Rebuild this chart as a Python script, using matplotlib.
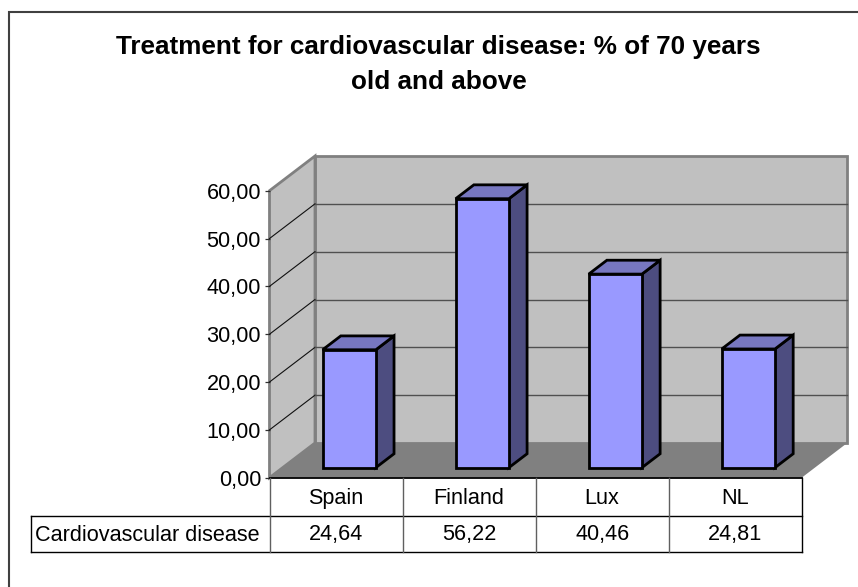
import matplotlib
matplotlib.use('Agg')
import matplotlib.pyplot as plt
from matplotlib.patches import Polygon, Rectangle
from matplotlib.lines import Line2D

plt.rcParams['font.family'] = ['Liberation Sans', 'DejaVu Sans']

categories = ['Spain', 'Finland', 'Lux', 'NL']
values = [24.64, 56.22, 40.46, 24.81]
value_labels = ['24,64', '56,22', '40,46', '24,81']
series_name = 'Cardiovascular disease'
title = 'Treatment for cardiovascular disease: % of 70 years\nold and above'
yticks = [0, 10, 20, 30, 40, 50, 60]

W, H = 858, 587
L, R, T, B = 269.5, 801.7, 190.7, 477.7   # front plane in pixels

fig = plt.figure(figsize=(W / 100, H / 100), dpi=100, facecolor='white')
ax = fig.add_axes([L / W, 1 - B / H, (R - L) / W, (B - T) / H])
ax.set_xlim(0, 4)
ax.set_ylim(0, 60)
ax.patch.set_visible(False)

# depth of the 3D box, in data units
DX = 45.5 / ((R - L) / 4)
DY = 34.7 / ((B - T) / 60)


def pt(x, y, d):
    return (x + DX * d, y + DY * d)


def poly(pts, fc, ec, lw, z):
    ax.add_patch(Polygon(pts, closed=True, facecolor=fc, edgecolor=ec, linewidth=lw,
                         zorder=z, clip_on=False, joinstyle='miter'))


# walls and floor
poly([pt(0, 0, 1), pt(4, 0, 1), pt(4, 60, 1), pt(0, 60, 1)], '#C0C0C0', '#808080', 2.0, 1)
poly([pt(0, 0, 0), pt(0, 0, 1), pt(0, 60, 1), pt(0, 60, 0)], '#C0C0C0', '#808080', 2.0, 1)
poly([pt(0, 0, 0), pt(4, 0, 0), pt(4, 0, 1), pt(0, 0, 1)], '#808080', 'none', 0, 2)

# gridlines
for v in yticks[1:-1]:
    xs, ys = zip(pt(0, v, 0), pt(0, v, 1))
    ax.add_line(Line2D(xs, ys, color='#101010', lw=0.8, zorder=3, clip_on=False))
    xs, ys = zip(pt(0, v, 1), pt(4, v, 1))
    ax.add_line(Line2D(xs, ys, color='#505050', lw=1.0, zorder=3, clip_on=False))

# bars
bar_w = 0.4
d0, d1 = 0.29, 0.69
for i, v in enumerate(values):
    x0 = i + 0.5 - bar_w / 2
    x1 = x0 + bar_w
    poly([pt(x1, 0, d0), pt(x1, 0, d1), pt(x1, v, d1), pt(x1, v, d0)], '#4D4D80', 'black', 2.0, 5)
    poly([pt(x0, v, d0), pt(x1, v, d0), pt(x1, v, d1), pt(x0, v, d1)], '#7777C0', 'black', 2.0, 5)
    poly([pt(x0, 0, d0), pt(x1, 0, d0), pt(x1, v, d0), pt(x0, v, d0)], '#9999FF', 'black', 2.0, 6)

# y axis
ax.set_yticks(yticks)
ax.set_yticklabels([f'{v:.2f}'.replace('.', ',') for v in yticks], fontsize=15.6)
ax.set_xticks([])
ax.tick_params(axis='y', length=3.6, width=0.9, color='#303030', pad=2.5)
for s in ['top', 'right', 'bottom', 'left']:
    ax.spines[s].set_visible(False)

# data table under the plot
h = B - T
r1 = 38.0 / h
r2 = 74.6 / h
label_x = (30.5 - L) / (R - L) * 4
tr = ax.get_xaxis_transform()


def tline(xs, ys, color, lw=1.0):
    ax.add_line(Line2D(xs, ys, transform=tr, color=color, lw=lw, clip_on=False, zorder=7))


tline([0, 4], [0, 0], 'black', 1.3)
tline([label_x, 4], [-r1, -r1], 'black')
tline([label_x, 4], [-r2, -r2], 'black')
tline([label_x, label_x], [-r1, -r2], 'black')
tline([4, 4], [0, -r2], 'black')
for k in range(4):
    tline([k, k], [0, -r2], '#606060')

for i, (c, t) in enumerate(zip(categories, value_labels)):
    ax.text(i + 0.5, -r1 / 2 + 0.003, c, transform=tr, ha='center', va='center_baseline', fontsize=15.6)
    ax.text(i + 0.5, -(r1 + r2) / 2 + 0.006, t, transform=tr, ha='center', va='center_baseline', fontsize=15.6)
ax.text(label_x + 0.035, -(r1 + r2) / 2 + 0.003, series_name, transform=tr, ha='left', va='center_baseline',
        fontsize=15.6)

# title and outer frame
fig.text(438.5 / W, 1 - 64.5 / H, title, ha='center', va='center', fontsize=18.8, fontweight='bold',
         linespacing=1.55)
fig.add_artist(Rectangle((9.2 / W, -0.05), 1, 1 - 12.2 / H + 0.05, transform=fig.transFigure,
                         facecolor='none', edgecolor='#404040', linewidth=1.5))

fig.savefig('out.png', dpi=100)
